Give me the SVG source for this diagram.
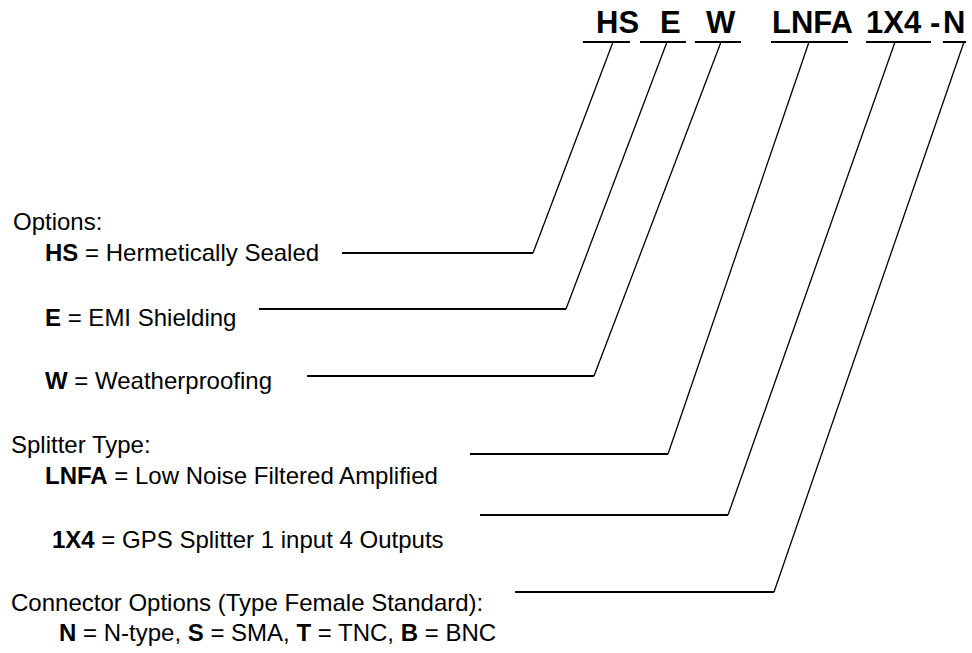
<svg xmlns="http://www.w3.org/2000/svg" width="972" height="653" viewBox="0 0 972 653">
<style>
text{font-family:"Liberation Sans",Arial,sans-serif;fill:#000}
.t{font-size:24px}
.h{font-size:31px;font-weight:bold}
.b{font-weight:bold}
.ul{stroke:#000;stroke-width:2;fill:none}
.hz{stroke:#000;stroke-width:2;fill:none}
.dg{stroke:#000;stroke-width:1.3;fill:none}
</style>
<rect width="972" height="653" fill="#fff"/>
<g id="part-number">
<text class="h" x="596" y="33">HS</text>
<text class="h" x="660" y="33">E</text>
<text class="h" x="706" y="33">W</text>
<text class="h" x="772" y="33">LNFA</text>
<text class="h" x="866" y="33">1X4</text>
<text class="h" x="930" y="33">-</text>
<text class="h" x="943" y="33">N</text>
</g>
<g id="options">
<text class="t" x="13" y="230">Options:</text>
</g>
<g id="opt-hs"><text class="t" x="45" y="261"><tspan class="b">HS</tspan> = Hermetically Sealed</text></g>
<g id="opt-e"><text class="t" x="45" y="326"><tspan class="b">E</tspan> = EMI Shielding</text></g>
<g id="opt-w"><text class="t" x="45" y="389"><tspan class="b">W</tspan> = Weatherproofing</text></g>
<g id="splitter-type"><text class="t" x="11" y="453">Splitter Type:</text></g>
<g id="type-lnfa"><text class="t" x="45" y="484"><tspan class="b">LNFA</tspan> = Low Noise Filtered Amplified</text></g>
<g id="type-1x4"><text class="t" x="52" y="548"><tspan class="b">1X4</tspan> = GPS Splitter 1 input 4 Outputs</text></g>
<g id="connector-options">
<text class="t" x="11" y="611">Connector Options (Type Female Standard):</text>
<text class="t" x="59" y="641"><tspan class="b">N</tspan> = N-type, <tspan class="b">S</tspan> = SMA, <tspan class="b">T</tspan> = TNC, <tspan class="b">B</tspan> = BNC</text>
</g>
<g id="connectors">
<line class="ul" x1="583" y1="42" x2="630" y2="42"/>
<line class="ul" x1="640" y1="42" x2="686" y2="42"/>
<line class="ul" x1="695" y1="42" x2="741" y2="42"/>
<line class="ul" x1="771" y1="42" x2="848" y2="42"/>
<line class="ul" x1="866" y1="42" x2="931" y2="42"/>
<line class="ul" x1="943" y1="42" x2="966" y2="42"/>
<polyline class="dg" points="613,42 533,253"/>
<line class="hz" x1="342" y1="253" x2="533" y2="253"/>
<polyline class="dg" points="667,42 566,309"/>
<line class="hz" x1="259" y1="309" x2="566" y2="309"/>
<polyline class="dg" points="721,42 594,376"/>
<line class="hz" x1="307" y1="376" x2="594" y2="376"/>
<polyline class="dg" points="809,42 668,454"/>
<line class="hz" x1="470" y1="454" x2="668" y2="454"/>
<polyline class="dg" points="895,42 728,515"/>
<line class="hz" x1="480" y1="515" x2="728" y2="515"/>
<polyline class="dg" points="964,42 774,592"/>
<line class="hz" x1="515" y1="592" x2="774" y2="592"/>
</g>
</svg>
